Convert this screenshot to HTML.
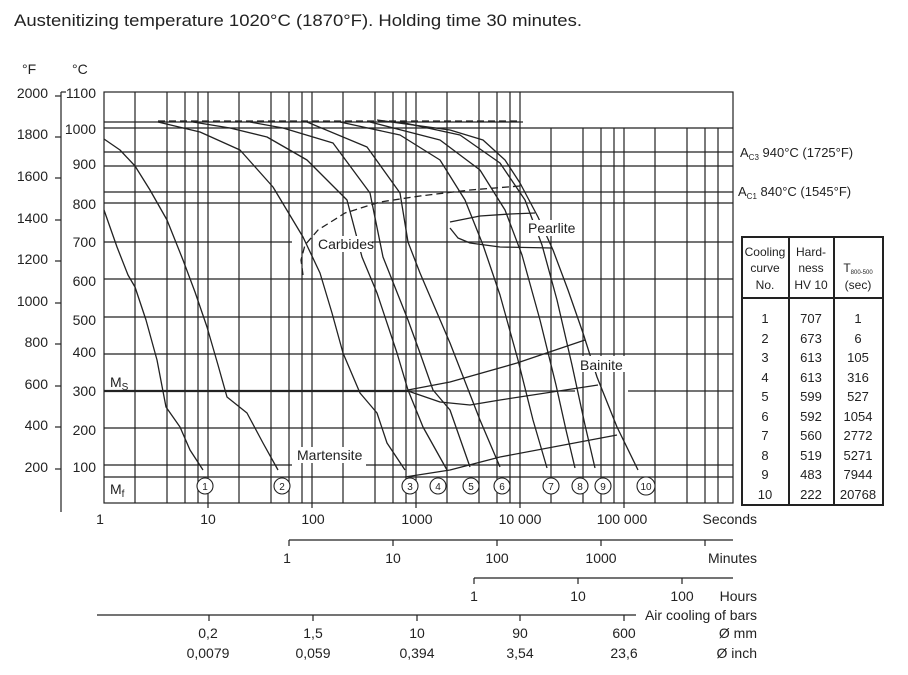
<!DOCTYPE html>
<html><head><meta charset="utf-8"><style>
body{margin:0;background:#fff;}
svg{display:block;font-family:"Liberation Sans Narrow","Liberation Sans",sans-serif;}
text{fill:#222;}
</style></head><body>
<svg width="908" height="675" viewBox="0 0 908 675" xmlns="http://www.w3.org/2000/svg">
<text x="14" y="26" font-size="17" textLength="568" lengthAdjust="spacingAndGlyphs">Austenitizing temperature 1020°C (1870°F). Holding time 30 minutes.</text>
<g stroke="#222" fill="none" stroke-width="1.2">
<line x1="61" y1="92" x2="61" y2="512"/>
<line x1="55" y1="96" x2="61" y2="96"/><line x1="55" y1="137" x2="61" y2="137"/><line x1="55" y1="178" x2="61" y2="178"/><line x1="55" y1="220" x2="61" y2="220"/><line x1="55" y1="261" x2="61" y2="261"/><line x1="55" y1="303" x2="61" y2="303"/><line x1="55" y1="344" x2="61" y2="344"/><line x1="55" y1="386" x2="61" y2="386"/><line x1="55" y1="427" x2="61" y2="427"/><line x1="55" y1="469" x2="61" y2="469"/>
<line x1="61" y1="92" x2="66" y2="92"/>
<line x1="104" y1="122" x2="523" y2="122"/>
<line x1="104" y1="128" x2="733" y2="128"/>
<line x1="104" y1="152" x2="733" y2="152"/>
<line x1="104" y1="166" x2="733" y2="166"/>
<line x1="104" y1="192" x2="733" y2="192"/>
<line x1="104" y1="203" x2="733" y2="203"/>
<line x1="104" y1="242" x2="292" y2="242"/><line x1="372" y1="242" x2="733" y2="242"/>
<line x1="104" y1="279" x2="733" y2="279"/>
<line x1="104" y1="317" x2="733" y2="317"/>
<line x1="104" y1="354" x2="733" y2="354"/>
<line x1="104" y1="391" x2="575" y2="391"/><line x1="628" y1="391" x2="733" y2="391"/>
<line x1="104" y1="428" x2="733" y2="428"/>
<line x1="104" y1="465" x2="292" y2="465"/><line x1="366" y1="465" x2="733" y2="465"/>
<line x1="104" y1="477" x2="733" y2="477"/>
<rect x="104" y="92" width="629" height="411"/>
<line x1="104" y1="391" x2="408" y2="391" stroke-width="2.2"/>
<line x1="135" y1="92" x2="135" y2="503"/><line x1="167" y1="92" x2="167" y2="503"/><line x1="185" y1="92" x2="185" y2="503"/><line x1="198" y1="92" x2="198" y2="503"/><line x1="208" y1="92" x2="208" y2="508"/>
<line x1="239" y1="92" x2="239" y2="503"/><line x1="271" y1="92" x2="271" y2="503"/><line x1="289" y1="92" x2="289" y2="503"/><line x1="302" y1="92" x2="302" y2="503"/><line x1="312" y1="92" x2="312" y2="508"/>
<line x1="343" y1="92" x2="343" y2="503"/><line x1="375" y1="92" x2="375" y2="503"/><line x1="393" y1="92" x2="393" y2="503"/><line x1="406" y1="92" x2="406" y2="503"/><line x1="416" y1="92" x2="416" y2="508"/>
<line x1="447" y1="92" x2="447" y2="503"/><line x1="479" y1="92" x2="479" y2="503"/><line x1="497" y1="92" x2="497" y2="503"/><line x1="510" y1="92" x2="510" y2="503"/><line x1="520" y1="92" x2="520" y2="508"/>
<line x1="551" y1="128" x2="551" y2="503"/><line x1="583" y1="128" x2="583" y2="503"/><line x1="601" y1="128" x2="601" y2="503"/><line x1="614" y1="128" x2="614" y2="503"/><line x1="624" y1="128" x2="624" y2="508"/>
<line x1="655" y1="128" x2="655" y2="503"/><line x1="687" y1="128" x2="687" y2="503"/><line x1="705" y1="128" x2="705" y2="503"/><line x1="718" y1="128" x2="718" y2="503"/>
<line x1="289" y1="540" x2="733" y2="540"/>
<line x1="289" y1="540" x2="289" y2="546"/><line x1="393" y1="540" x2="393" y2="546"/><line x1="497" y1="540" x2="497" y2="546"/><line x1="601" y1="540" x2="601" y2="546"/><line x1="705" y1="540" x2="705" y2="546"/>
<line x1="474" y1="578" x2="733" y2="578"/>
<line x1="474" y1="578" x2="474" y2="584"/><line x1="578" y1="578" x2="578" y2="584"/><line x1="682" y1="578" x2="682" y2="584"/>
<line x1="97" y1="615" x2="636" y2="615"/>
<line x1="209" y1="615" x2="209" y2="621"/><line x1="313" y1="615" x2="313" y2="621"/><line x1="417" y1="615" x2="417" y2="621"/><line x1="520" y1="615" x2="520" y2="621"/><line x1="624" y1="615" x2="624" y2="621"/>
</g>
<g stroke="#222" fill="none" stroke-width="1.3" stroke-linejoin="round">
<polyline points="104,210 117,247 128,275 135,287 146,320 157,360 166,407 180,427 190,450 203,470"/>
<polyline points="104,139 120,150 135,166 150,190 167,220 183,260 195,292 207,327 218,365 227,397 247,413 263,443 278,470"/>
<polyline points="158,122 200,132 240,150 273,187 303,237 320,273 332,313 343,353 360,393 377,413 387,443 405,470"/>
<polyline points="193,122 230,128 267,137 307,160 347,200 362,257 377,293 397,353 408,390 423,427 447,470"/>
<polyline points="250,122 283,128 333,143 370,193 383,257 408,320 420,353 433,390 450,410 470,467"/>
<polyline points="307,122 367,147 400,193 408,242 420,273 450,343 480,420 500,467"/>
<polyline points="340,122 400,135 440,160 465,200 483,245 500,295 518,360 533,420 547,468"/>
<polyline points="370,122 440,140 480,170 505,210 522,255 540,320 556,385 566,430 575,468"/>
<polyline points="400,122 460,135 500,163 525,200 542,245 557,300 572,365 585,425 595,468"/>
<polyline points="377,120 450,130 483,140 505,160 520,183 538,217 553,250 568,290 583,333 597,377 617,427 638,470"/>
<polyline points="450,222 480,216 510,214 535,213"/>
<polyline points="450,228 458,238 470,243 500,247 552,248"/>
<polyline points="408,390 450,382 517,363 585,340"/>
<polyline points="408,391 440,402 470,405 500,400 598,385"/>
<polyline points="405,477 450,470 500,457 617,435"/>
<polyline points="158,121 520,121" stroke-dasharray="7,4"/>
<polyline points="303,275 301,260 305,245 318,230 345,213 380,202 420,196 470,190 520,186" stroke-dasharray="7,4"/>
</g>
<rect x="318" y="236" width="52" height="16" fill="#fff"/>
<text x="318" y="249" font-size="14">Carbides</text>
<rect x="297" y="447" width="68" height="16" fill="#fff"/>
<text x="297" y="460" font-size="14">Martensite</text>
<rect x="526" y="220" width="52" height="16" fill="#fff"/>
<text x="528" y="233" font-size="14">Pearlite</text>
<rect x="578" y="356" width="48" height="16" fill="#fff"/>
<text x="580" y="370" font-size="14">Bainite</text>
<text x="110" y="387" font-size="14">M<tspan font-size="10" dy="3">S</tspan></text>
<text x="110" y="494" font-size="14">M<tspan font-size="10" dy="3">f</tspan></text>
<g fill="#fff" stroke="#222" stroke-width="1.1">
<circle cx="205" cy="486" r="8"/><circle cx="282" cy="486" r="8"/><circle cx="410" cy="486" r="8"/><circle cx="438" cy="486" r="8"/><circle cx="471" cy="486" r="8"/><circle cx="502" cy="486" r="8"/><circle cx="551" cy="486" r="8"/><circle cx="580" cy="486" r="8"/><circle cx="603" cy="486" r="8"/><circle cx="646" cy="486" r="9"/>
</g>
<g font-size="10" text-anchor="middle">
<text x="205" y="490">1</text><text x="282" y="490">2</text><text x="410" y="490">3</text><text x="438" y="490">4</text><text x="471" y="490">5</text><text x="502" y="490">6</text><text x="551" y="490">7</text><text x="580" y="490">8</text><text x="603" y="490">9</text><text x="646" y="490">10</text>
</g>
<g font-size="14">
<text x="22" y="74">°F</text><text x="72" y="74">°C</text>
</g>
<g font-size="14" text-anchor="end">
<text x="48" y="98">2000</text><text x="48" y="139">1800</text><text x="48" y="181">1600</text><text x="48" y="223">1400</text><text x="48" y="264">1200</text><text x="48" y="306">1000</text><text x="48" y="347">800</text><text x="48" y="389">600</text><text x="48" y="430">400</text><text x="48" y="472">200</text>
<text x="96" y="98">1100</text><text x="96" y="134">1000</text><text x="96" y="169">900</text><text x="96" y="209">800</text><text x="96" y="247">700</text><text x="96" y="286">600</text><text x="96" y="325">500</text><text x="96" y="357">400</text><text x="96" y="396">300</text><text x="96" y="435">200</text><text x="96" y="472">100</text>
</g>
<text x="740" y="157" font-size="13">A<tspan font-size="8" dy="3">C3</tspan><tspan dy="-3"> 940°C (1725°F)</tspan></text>
<text x="738" y="196" font-size="13">A<tspan font-size="8" dy="3">C1</tspan><tspan dy="-3"> 840°C (1545°F)</tspan></text>
<g font-size="14" text-anchor="middle">
<text x="100" y="524">1</text><text x="208" y="524">10</text><text x="313" y="524">100</text><text x="417" y="524">1000</text><text x="520" y="524">10 000</text><text x="622" y="524">100 000</text>
<text x="287" y="563">1</text><text x="393" y="563">10</text><text x="497" y="563">100</text><text x="601" y="563">1000</text>
<text x="474" y="601">1</text><text x="578" y="601">10</text><text x="682" y="601">100</text>
<text x="208" y="638">0,2</text><text x="313" y="638">1,5</text><text x="417" y="638">10</text><text x="520" y="638">90</text><text x="624" y="638">600</text>
<text x="208" y="658">0,0079</text><text x="313" y="658">0,059</text><text x="417" y="658">0,394</text><text x="520" y="658">3,54</text><text x="624" y="658">23,6</text>
</g>
<g font-size="14" text-anchor="end">
<text x="757" y="524">Seconds</text><text x="757" y="563">Minutes</text><text x="757" y="601">Hours</text><text x="757" y="620">Air cooling of bars</text><text x="757" y="638">Ø mm</text><text x="757" y="658">Ø inch</text>
</g>
<g stroke="#222" stroke-width="2" fill="none">
<rect x="742" y="237" width="141" height="268"/>
<line x1="789" y1="237" x2="789" y2="505"/><line x1="834" y1="237" x2="834" y2="505"/>
<line x1="742" y1="298" x2="883" y2="298"/>
</g>
<g font-size="12" text-anchor="middle">
<text x="765" y="256">Cooling</text><text x="765" y="272">curve</text><text x="765" y="289">No.</text>
<text x="811" y="256">Hard-</text><text x="811" y="272">ness</text><text x="811" y="289">HV 10</text>
<text x="858" y="272">T<tspan font-size="6" dy="2">800-500</tspan></text><text x="858" y="289">(sec)</text>
</g>
<g font-size="13" text-anchor="middle">
<text x="765" y="323">1</text><text x="765" y="343">2</text><text x="765" y="362">3</text><text x="765" y="382">4</text><text x="765" y="401">5</text><text x="765" y="421">6</text><text x="765" y="440">7</text><text x="765" y="460">8</text><text x="765" y="479">9</text><text x="765" y="499">10</text>
<text x="811" y="323">707</text><text x="811" y="343">673</text><text x="811" y="362">613</text><text x="811" y="382">613</text><text x="811" y="401">599</text><text x="811" y="421">592</text><text x="811" y="440">560</text><text x="811" y="460">519</text><text x="811" y="479">483</text><text x="811" y="499">222</text>
<text x="858" y="323">1</text><text x="858" y="343">6</text><text x="858" y="362">105</text><text x="858" y="382">316</text><text x="858" y="401">527</text><text x="858" y="421">1054</text><text x="858" y="440">2772</text><text x="858" y="460">5271</text><text x="858" y="479">7944</text><text x="858" y="499">20768</text>
</g>
</svg>
</body></html>
